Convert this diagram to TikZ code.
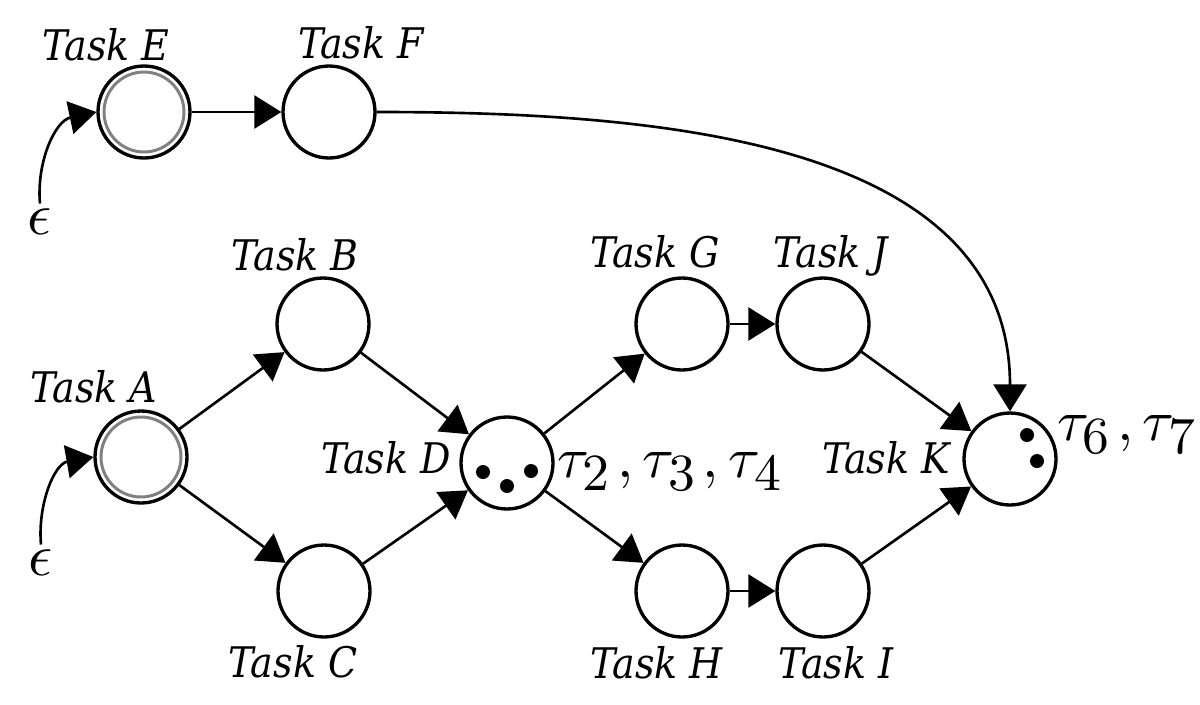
\documentclass[tikz,border=0pt]{standalone}
\usepackage{fontspec}
\newfontfamily\taskfont{DejaVu Serif Condensed}
\usetikzlibrary{arrows.meta}
\DeclareMathSizes{10}{10}{9}{6}

\begin{document}
\begin{tikzpicture}[x=0.02cm, y=-0.02cm,
    task/.style={circle, draw, line width=1.9pt, minimum size=1.84cm, inner sep=0pt},
    inittask/.style={task, path picture={\draw[gray, line width=1.7pt]
        (path picture bounding box.center) circle (0.8cm);}},
    tasklabel/.style={anchor=base, inner sep=0pt, font=\taskfont\itshape\fontsize{24}{29}\selectfont},
    tokens/.style={anchor=base west, inner sep=0pt},
    eps/.style={inner sep=3pt},
    flow/.style={-{Triangle[length=0.54cm, width=0.66cm]}, line width=1.5pt}]
  \useasboundingbox (0,0) rectangle (1200,704);

  \node[inittask] (E) at (144,112) {};
  \node[task] (F) at (329,112) {};
  \node[inittask] (A) at (141,457) {};
  \node[task] (B) at (323,324) {};
  \node[task] (C) at (324,591) {};
  \node[task] (D) at (507,463) {};
  \node[task] (G) at (682,324) {};
  \node[task] (J) at (823,324) {};
  \node[task] (H) at (682,591) {};
  \node[task] (I) at (823,591) {};
  \node[task] (K) at (1010,459) {};

  \node[tasklabel] (lE) at (106,60) {Task E};
  \node[tasklabel] (lF) at (361,58) {Task F};
  \node[tasklabel] (lA) at (94,402) {Task A};
  \node[tasklabel] (lB) at (295,270) {Task B};
  \node[tasklabel] (lC) at (293,677) {Task C};
  \node[tasklabel] (lD) at (386,473) {Task D};
  \node[tasklabel] (lG) at (655,267) {Task G};
  \node[tasklabel] (lJ) at (831,267) {Task J};
  \node[tasklabel] (lH) at (657,678) {Task H};
  \node[tasklabel] (lI) at (836,678) {Task I};
  \node[tasklabel] (lK) at (886,473) {Task K};

  % tokens
  \foreach \dx/\dy in {-24/9, 0/23, 24/8}
    \fill ([shift={(\dx,\dy)}]D.center) circle (0.14cm);
  \foreach \dx/\dy in {17/-24, 27/2}
    \fill ([shift={(\dx,\dy)}]K.center) circle (0.14cm);
  \node[tokens] (tD) at (557,477) {\scalebox{3.3}{$\tau_2\mkern1.5mu, \tau_3\mkern1.5mu, \tau_4$}};
  \node[tokens] (tK) at (1057,440) {\scalebox{3.3}{$\tau_6\mkern1.5mu, \tau_7$}};

  \node[eps] (eps1) at (40,222) {\scalebox{3.4}{$\epsilon$}};
  \node[eps] (eps2) at (41,563) {\scalebox{3.4}{$\epsilon$}};

  \path[flow]
    (E) edge (F)
    (A)
      edge (B)
      edge (C)
    (B) edge (D)
    (C) edge (D)
    (D)
      edge (G)
      edge (H)
    (G) edge (J)
    (H) edge (I)
    (J) edge (K)
    (I) edge (K);
  \draw[flow] (F) to[out=0, in=90] (K);
  \draw[flow] (eps1.north) to[out=95, in=192] (E.west);
  \draw[flow] (eps2.north) to[out=95, in=190] (A.west);
\end{tikzpicture}
\end{document}
